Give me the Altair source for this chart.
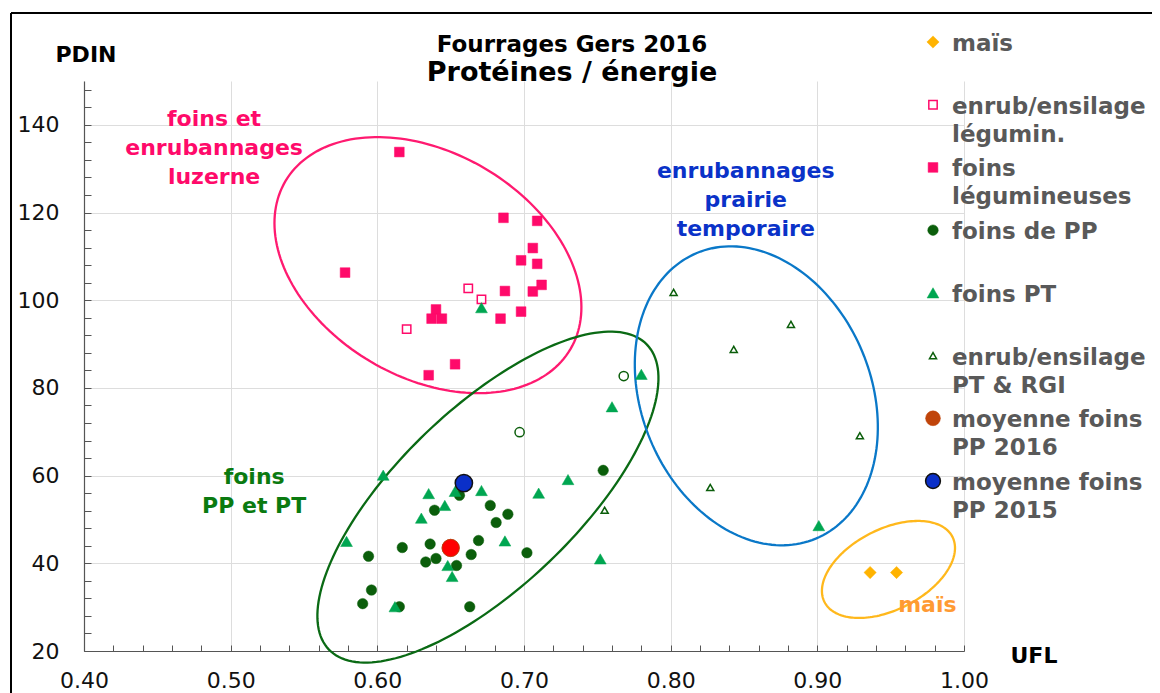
import altair as alt
import numpy as np
import pandas as pd

# ---------------- values ----------------
SERIES = ["maïs", "enrub/ensilage légumin.", "foins légumineuses", "foins de PP",
          "foins PT", "enrub/ensilage PT & RGI", "moyenne foins PP 2016",
          "moyenne foins PP 2015", "enrub/ensilage PP"]

mais_ufl = [0.936, 0.954]
mais_pdin = [37.9, 37.9]

enrub_leg_ufl = [0.662, 0.671, 0.620]
enrub_leg_pdin = [102.7, 100.2, 93.4]

foins_leg_ufl = [0.615, 0.578, 0.686, 0.709, 0.706, 0.698, 0.709, 0.712, 0.687,
                 0.706, 0.698, 0.684, 0.640, 0.637, 0.644, 0.653, 0.635]
foins_leg_pdin = [133.8, 106.3, 118.8, 118.1, 111.9, 109.1, 108.3, 103.5, 102.1,
                  102.0, 97.4, 95.8, 97.9, 95.8, 95.8, 85.4, 82.9]

foins_pp_ufl = [0.754, 0.656, 0.677, 0.689, 0.681, 0.639, 0.617, 0.636, 0.669, 0.664,
                0.702, 0.594, 0.633, 0.640, 0.654, 0.596, 0.590, 0.615, 0.663]
foins_pp_pdin = [61.2, 55.5, 53.2, 51.2, 49.3, 52.1, 43.6, 44.4, 45.2, 42.0,
                 42.4, 41.6, 40.3, 41.1, 39.5, 33.9, 30.8, 30.1, 30.1]

foins_pt_ufl = [0.780, 0.760, 0.730, 0.710, 0.671, 0.653, 0.635, 0.646, 0.630,
                0.604, 0.579, 0.687, 0.752, 0.648, 0.651, 0.612, 0.671, 0.901]
foins_pt_pdin = [83.1, 75.7, 59.1, 56.0, 56.6, 56.4, 55.9, 53.2, 50.3,
                 60.1, 45.0, 45.1, 41.0, 39.5, 37.0, 30.1, 98.3, 48.6]

enrub_pt_ufl = [0.802, 0.882, 0.843, 0.929, 0.827, 0.755]
enrub_pt_pdin = [101.8, 94.5, 88.8, 69.1, 57.3, 52.1]

enrub_pp_ufl = [0.768, 0.697]
enrub_pp_pdin = [82.7, 69.9]

moy2016_ufl = [0.650]
moy2016_pdin = [43.5]
moy2015_ufl = [0.659]
moy2015_pdin = [58.3]

# axis ticks
x_major = [0.40, 0.50, 0.60, 0.70, 0.80, 0.90, 1.00]
y_major = [20, 40, 60, 80, 100, 120, 140]
x_minor = [round(0.40 + 0.02 * i, 2) for i in range(31)]
y_minor = [20 + 4 * i for i in range(33)]

# legend entries
legend_series = SERIES[:8]
legend_labels = ["maïs", "enrub/ensilage\nlégumin.", "foins\nlégumineuses", "foins de PP",
                 "foins PT", "enrub/ensilage\nPT & RGI", "moyenne foins\nPP 2016",
                 "moyenne foins\nPP 2015"]

# cluster annotations
note_text = ["foins et\nenrubannages\nluzerne", "enrubannages\nprairie\ntemporaire",
             "foins\nPP et PT", "maïs"]
note_ufl = [0.4887, 0.8512, 0.516, 0.975]
note_pdin = [139.8, 127.9, 58.2, 28.9]
note_color = ["#FF0A6A", "#0A32C8", "#0A7A10", "#FF9A33"]

# ellipses (centre in data units, semi-axes in pixels, angle in screen degrees)
ell_name = ["luzerne", "ppt", "prairie", "mais"]
ell_cx = [0.6345, 0.6754, 0.8584, 0.9485]
ell_cy = [108.0, 55.1, 78.2, 38.6]
ell_a = [165.4, 220.3, 154.7, 71.8]
ell_b = [112.2, 89.1, 114.8, 40.3]
ell_ang = [30.5, -43.8, 67.4, -27.0]
ell_color = ["#FF1A70", "#0A6A14", "#0A78C8", "#FFB81C"]

# styles per series
shapes = ["diamond", "square", "square", "circle", "triangle-up", "triangle-up",
          "circle", "circle", "circle"]
fills = ["#FFB300", "white", "#FF0A6A", "#0B5E0B", "#00A651", "white",
         "#C0440A", "#0A2FC8", "white"]
strokes = ["#FFB300", "#FF0A6A", "#FF0A6A", "#0B5E0B", "#00A651", "#0B5E0B",
           "#C0440A", "#111111", "#0B5E0B"]
sizes = [150, 70, 95, 110, 140, 50, 300, 300, 85]
swidths = [0.5, 1.5, 0.5, 0.5, 0.5, 1.5, 0.5, 1.5, 1.5]
legend_sizes = [150, 70, 95, 110, 140, 50, 220, 220, 85]

W, H = 880, 570
X0, X1, Y0, Y1 = 0.40, 1.00, 20, 150
FONT = "DejaVu Sans"

size_of = dict(zip(SERIES, sizes))
lsize_of = dict(zip(SERIES, legend_sizes))
sw_of = dict(zip(SERIES, swidths))

# ---------------- tables ----------------
groups = [
    (SERIES[0], mais_ufl, mais_pdin),
    (SERIES[1], enrub_leg_ufl, enrub_leg_pdin),
    (SERIES[2], foins_leg_ufl, foins_leg_pdin),
    (SERIES[8], enrub_pp_ufl, enrub_pp_pdin),
    (SERIES[5], enrub_pt_ufl, enrub_pt_pdin),
    (SERIES[3], foins_pp_ufl, foins_pp_pdin),
    (SERIES[4], foins_pt_ufl, foins_pt_pdin),
    (SERIES[6], moy2016_ufl, moy2016_pdin),
    (SERIES[7], moy2015_ufl, moy2015_pdin),
]
rows = []
for name, xs, ys in groups:
    for xv, yv in zip(xs, ys):
        rows.append({"UFL": xv, "PDIN": yv, "serie": name,
                     "sz": size_of[name], "sw": sw_of[name]})
pts = pd.DataFrame(rows)
pts["ordre"] = range(len(pts))

px_x = W / (X1 - X0)
px_y = H / (Y1 - Y0)
erows = []
t = np.linspace(0, 2 * np.pi, 181)
for n, cx, cy, a, b, ang, col in zip(ell_name, ell_cx, ell_cy, ell_a, ell_b, ell_ang, ell_color):
    ph = np.radians(ang)
    dX = a * np.cos(t) * np.cos(ph) - b * np.sin(t) * np.sin(ph)
    dY = a * np.cos(t) * np.sin(ph) + b * np.sin(t) * np.cos(ph)
    for i in range(len(t)):
        erows.append({"ell": n, "i": i, "UFL": cx + dX[i] / px_x,
                      "PDIN": cy - dY[i] / px_y, "col": col})
ell = pd.DataFrame(erows)

notes = pd.DataFrame({"UFL": note_ufl, "PDIN": note_pdin, "txt": note_text, "col": note_color})
leg = pd.DataFrame({"serie": legend_series, "label": legend_labels, "rang": list(range(8)),
                    "sz": [lsize_of[s] for s in legend_series],
                    "sw": [sw_of[s] for s in legend_series]})

xscale = alt.Scale(domain=[X0, X1], nice=False, zero=False)
yscale = alt.Scale(domain=[Y0, Y1], nice=False, zero=False)

enc_style = dict(
    shape=alt.Shape("serie:N", scale=alt.Scale(domain=SERIES, range=shapes), legend=None),
    fill=alt.Fill("serie:N", scale=alt.Scale(domain=SERIES, range=fills), legend=None),
    stroke=alt.Stroke("serie:N", scale=alt.Scale(domain=SERIES, range=strokes), legend=None),
    size=alt.Size("sz:Q", scale=None, legend=None),
    strokeWidth=alt.StrokeWidth("sw:Q", scale=None, legend=None),
)

# ellipses, carrying the inward minor tick axes
ellipses = alt.Chart(ell).mark_line(strokeWidth=2.3).encode(
    x=alt.X("UFL:Q", scale=xscale,
            axis=alt.Axis(orient="top", offset=-H, values=x_minor, labels=False, domain=False,
                          grid=False, ticks=True, tickSize=6, tickColor="#555", tickWidth=1,
                          title=None)),
    y=alt.Y("PDIN:Q", scale=yscale,
            axis=alt.Axis(orient="right", offset=-W, values=y_minor, labels=False, domain=False,
                          grid=False, ticks=True, tickSize=7, tickColor="#555", tickWidth=1,
                          title=None)),
    detail="ell:N",
    order="i:Q",
    color=alt.Color("col:N", scale=None),
)

points = alt.Chart(pts).mark_point(filled=True, opacity=1).encode(
    x=alt.X("UFL:Q", scale=xscale,
            axis=alt.Axis(orient="bottom", values=x_major, format=".2f", grid=True, ticks=False,
                          tickSize=0, labelPadding=19, labelFlush=False, labelOverlap=False,
                          domainColor="#555", domainWidth=1.2,
                          title="UFL", titleAngle=0, titleX=926, titleY=11,
                          titleAlign="left", titleBaseline="alphabetic")),
    y=alt.Y("PDIN:Q", scale=yscale,
            axis=alt.Axis(orient="left", values=y_major, grid=True, ticks=False, tickSize=0,
                          labelPadding=25, labelFlush=False, labelOverlap=False,
                          domainColor="#555", domainWidth=1.2,
                          title="PDIN", titleAngle=0, titleX=-29, titleY=-20,
                          titleAlign="left", titleBaseline="alphabetic")),
    order="ordre:Q",
    **enc_style,
)

red = alt.Chart(pts[pts["serie"] == SERIES[6]]).mark_point(
    filled=True, opacity=1, shape="circle", size=300, fill="#FF0000",
    stroke="#B5400C", strokeWidth=0.8
).encode(
    x=alt.X("UFL:Q", scale=xscale, axis=None),
    y=alt.Y("PDIN:Q", scale=yscale, axis=None),
)

texts = alt.Chart(notes).mark_text(
    font=FONT, fontSize=22, fontWeight="bold", align="center", baseline="alphabetic",
    lineBreak="\n", lineHeight=29
).encode(
    x=alt.X("UFL:Q", scale=xscale, axis=None),
    y=alt.Y("PDIN:Q", scale=yscale, axis=None),
    text="txt:N",
    color=alt.Color("col:N", scale=None),
)

one = alt.Data(values=[{}])
frame_top = alt.Chart(one).mark_rule(color="black", strokeWidth=2).encode(
    x=alt.value(-73), x2=alt.value(1090), y=alt.value(-68))
frame_left = alt.Chart(one).mark_rule(color="black", strokeWidth=2).encode(
    x=alt.value(-73), y=alt.value(-68), y2=alt.value(640))

main = alt.layer(frame_top, frame_left, ellipses, points, red, texts)

lyscale = alt.Scale(domain=list(range(8)), range=[-39, 400], padding=0)
leg_sym = alt.Chart(leg).mark_point(filled=True, opacity=1).encode(
    x=alt.value(W - 31),
    y=alt.Y("rang:O", scale=lyscale, axis=None),
    **enc_style,
)
leg_txt = alt.Chart(leg).mark_text(
    font=FONT, fontSize=23, fontWeight="bold", align="left", baseline="alphabetic",
    lineBreak="\n", lineHeight=28, dy=9, color="#595959"
).encode(
    x=alt.value(W - 12),
    y=alt.Y("rang:O", scale=lyscale, axis=None),
    text="label:N",
)
legend_layer = alt.layer(leg_sym, leg_txt)

chart = alt.layer(main, legend_layer).resolve_scale(y="independent").properties(
    width=W, height=H,
    autosize=alt.AutoSizeParams(type="none"),
    padding={"left": 76, "top": 73, "right": 188, "bottom": 42},
    background="white",
    title=alt.TitleParams(
        text="Fourrages Gers 2016", subtitle="Protéines / énergie",
        font=FONT, fontSize=23, fontWeight="bold", color="black",
        subtitleFont=FONT, subtitleFontSize=27, subtitleFontWeight="bold",
        subtitleColor="black", subtitlePadding=3, anchor="middle", dx=48, offset=-74),
).configure_view(stroke=None).configure_axis(
    labelFont=FONT, labelFontSize=22, labelColor="#111",
    titleFont=FONT, titleFontSize=22, titleFontWeight="bold", titleColor="black",
    gridColor="#dddddd", gridWidth=1,
)

chart.save("out.html", embed_options={"renderer": "svg", "actions": False})
